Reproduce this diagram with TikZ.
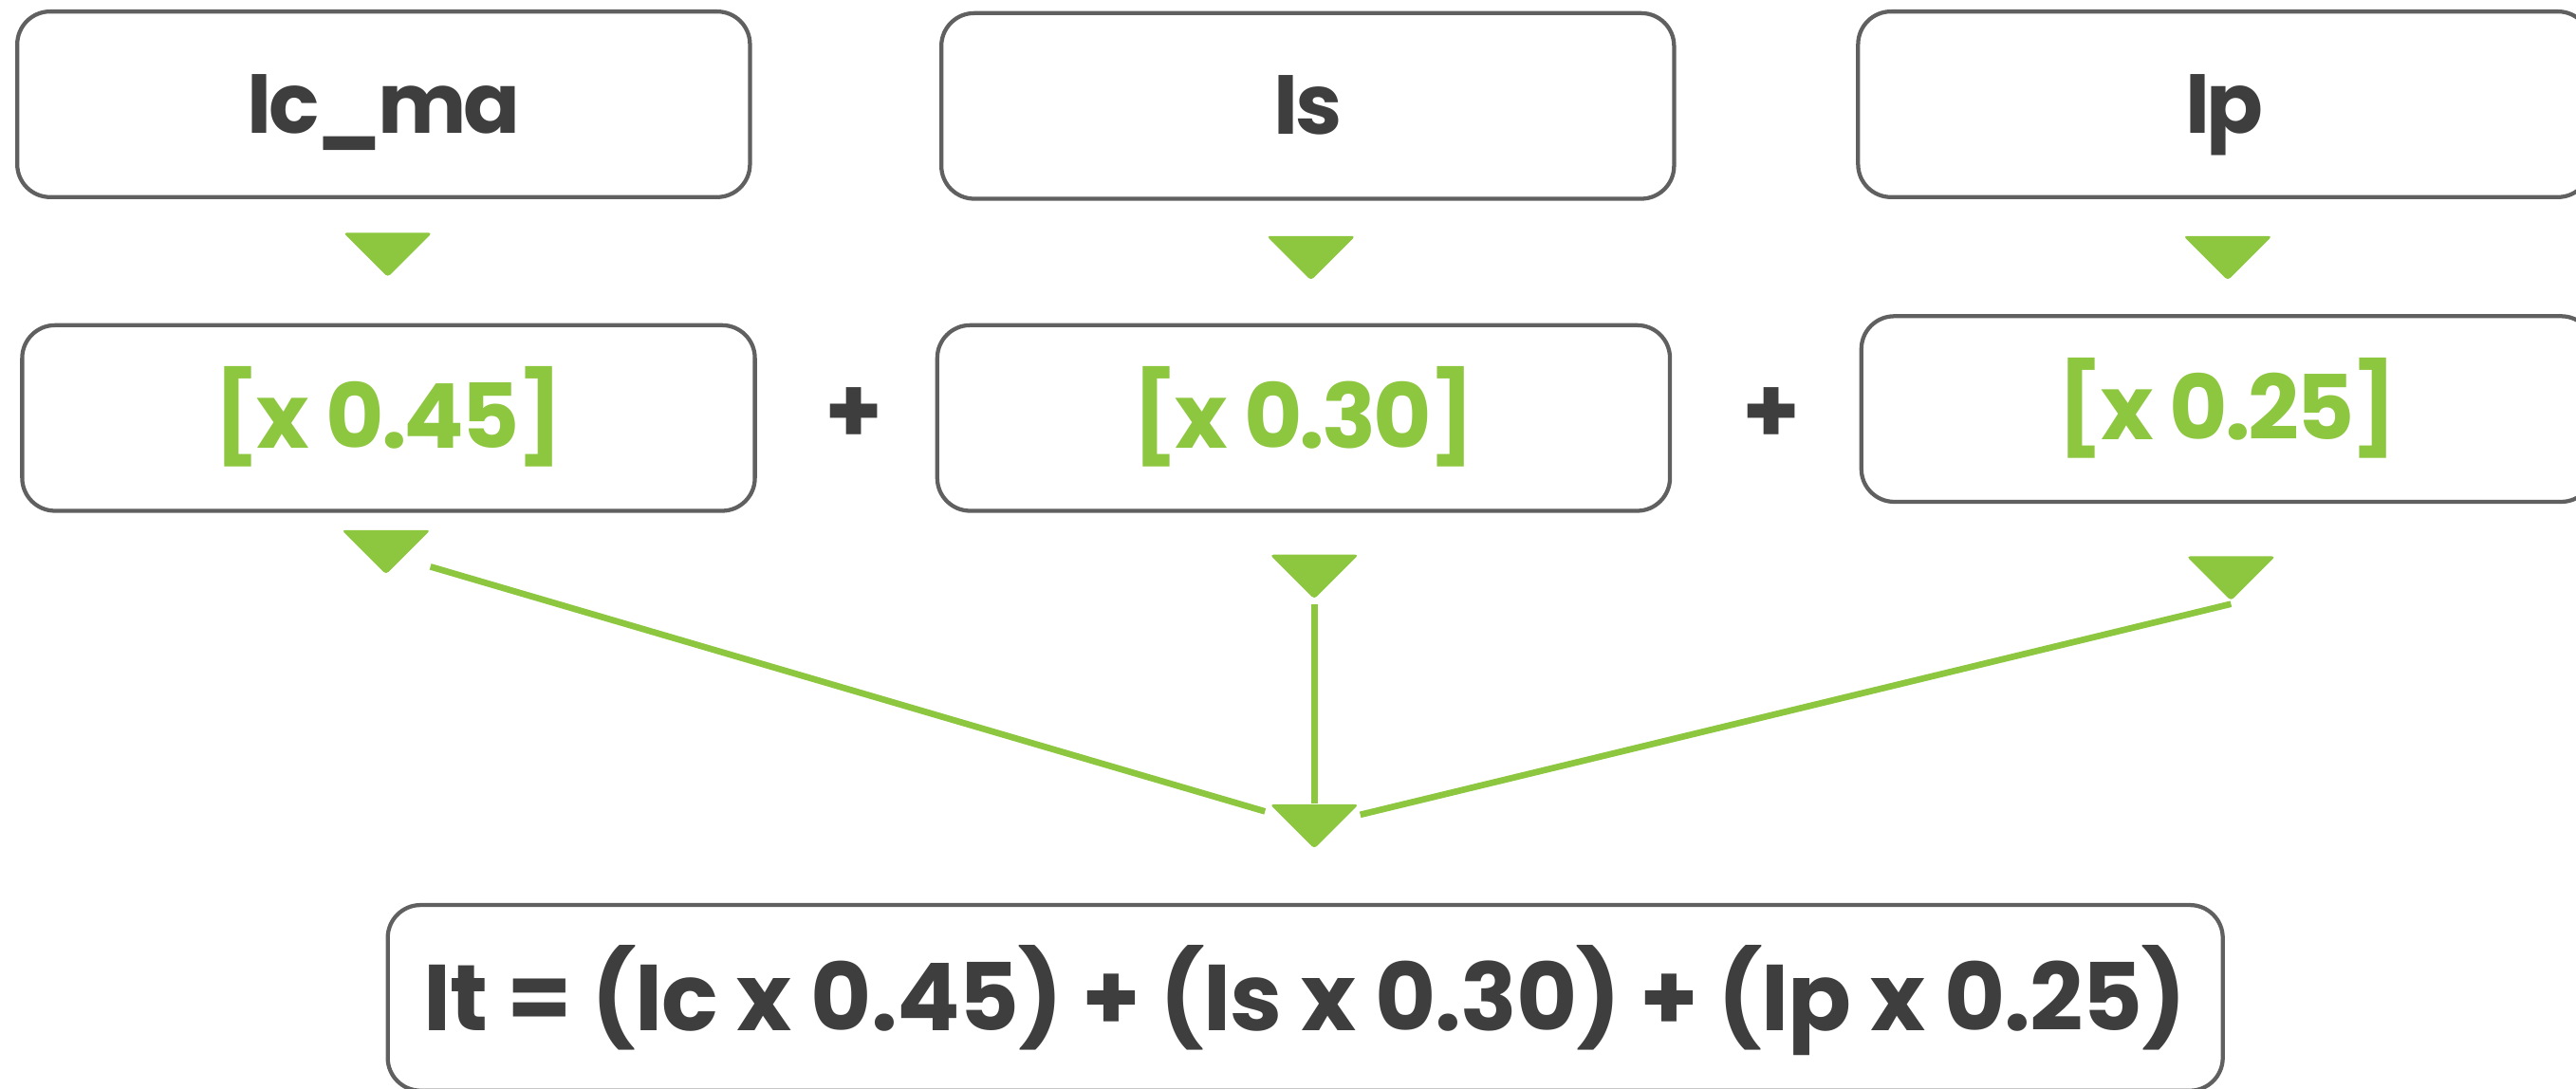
\documentclass[tikz,border=0pt]{standalone}
\usepackage{fontspec}
\setmainfont{Poppins}
\usetikzlibrary{shapes.geometric}
\definecolor{leaf}{RGB}{141,198,63}
\definecolor{ink}{RGB}{62,62,62}
\definecolor{rim}{RGB}{96,96,96}

\begin{document}
\begin{tikzpicture}[x=0.1mm,y=-0.1mm,
    box/.style={draw=rim,line width=0.7pt,rounded corners=2mm,minimum width=44.6mm,minimum height=11.3mm,inner sep=0pt,
      font=\fontsize{14.5}{16}\selectfont\bfseries\addfontfeature{LetterSpace=-4},text=ink,text height=3.5mm,text depth=0pt},
    wbox/.style={box,font=\fontsize{15.5}{18}\selectfont\bfseries\addfontfeature{LetterSpace=-3},text=leaf,text height=3.7mm},
    tip/.style={isosceles triangle,isosceles triangle apex angle=90,isosceles triangle stretches,shape border rotate=-90,
      fill=leaf,inner sep=0pt,minimum width=5.4mm,minimum height=2.7mm,rounded corners=0.6pt,anchor=north},
    link/.style={draw=leaf,line width=1.1pt},
    plus/.style={font=\fontsize{16}{18}\selectfont\bfseries,text=ink}]
  \useasboundingbox (0,0) rectangle (1568,663);
  % inputs
  \node[box] (ic) at (233.5,63.5) {Ic\_ma};
  \node[box] (is) at (796,64.5) {Is};
  \node[box] (ip) at (1354,63.5) {Ip};
  % weights
  \node[wbox] (wc) at (236.5,254.5) {[x 0.45]};
  \node[wbox] (ws) at (793.5,254.5) {[x 0.30]};
  \node[wbox] (wp) at (1356,249) {[x 0.25]};
  \node[plus] (p1) at (520,253) {+};
  \node[plus] (p2) at (1078,253) {+};
  % heads
  \node[tip] (t1) at (236,141) {};
  \node[tip] (t2) at (798,143) {};
  \node[tip] (t3) at (1356,143) {};
  \node[tip] (tc) at (235,322) {};
  \node[tip] (ts) at (800,337) {};
  \node[tip] (tp) at (1358,338) {};
  \node[tip] (tm) at (800,489) {};
  \draw[link] ([shift={(27,23)}]tc.north) -- ([shift={(-30,5)}]tm.north);
  \draw[link] ([yshift=-0.2mm]ts.south) -- (tm.north);
  \draw[link] ([yshift=-0.1mm]tp.south) -- ([shift={(28,7)}]tm.north);
  % total
  \node[box,minimum width=111.7mm,font=\fontsize{16.2}{18}\selectfont\bfseries\addfontfeature{LetterSpace=-1},text height=4mm] (it) at (794.5,607.5)
    {It = (Ic x 0.45) + (Is x 0.30) + (Ip x 0.25)};
\end{tikzpicture}
\end{document}
